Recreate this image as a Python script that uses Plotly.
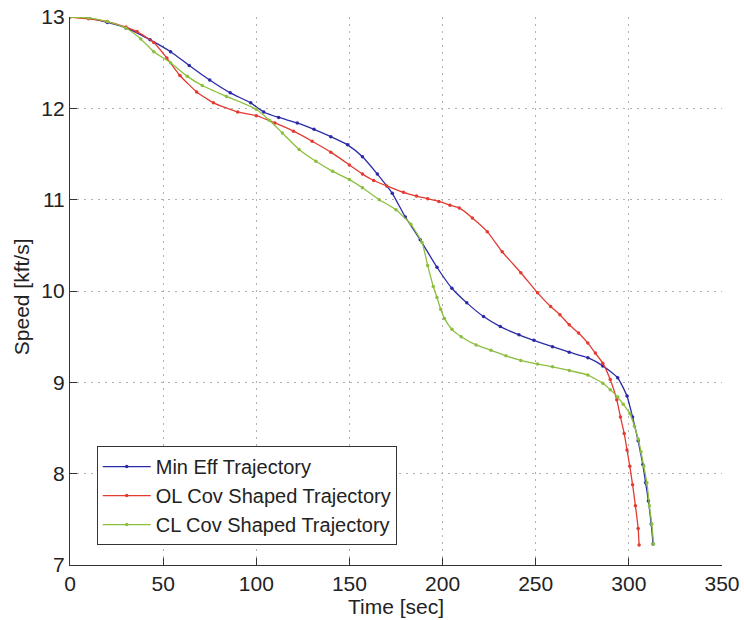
import plotly.graph_objects as go

# Min Eff Trajectory
blue_t = [0, 10, 20, 30, 43, 54, 64, 75, 86, 97, 104, 112, 122, 131, 140, 149, 157, 165, 173, 180,
          188, 197, 205, 213, 222, 231, 241, 249, 259, 268, 278, 286, 294, 299, 302,
          305, 307.5, 309, 310.5, 312, 313]
blue_v = [13.00, 12.99, 12.94, 12.88, 12.75, 12.62, 12.47, 12.31, 12.17, 12.06, 11.96, 11.90, 11.84, 11.77,
          11.69, 11.60, 11.47, 11.28, 11.07, 10.81, 10.56, 10.26, 10.03, 9.87,
          9.72, 9.61, 9.52, 9.46, 9.39, 9.33, 9.27, 9.18, 9.05, 8.85, 8.62, 8.36, 8.10, 7.90, 7.70,
          7.45, 7.23]

# OL Cov Shaped Trajectory
red_t = [0, 10, 20, 30, 36, 45, 52, 59, 68, 77, 90, 100, 110, 120, 130, 140, 150, 157, 163, 170, 179,
         186, 192, 198, 204, 209, 216, 224, 232, 242, 251, 258, 263, 268, 273, 278, 282, 286,
         290, 293.5, 295.5, 297.5, 299, 300.5, 302, 303.5, 305, 305.5]
red_v = [13.00, 12.98, 12.95, 12.89, 12.84, 12.72, 12.55, 12.36, 12.18, 12.06, 11.96, 11.92,
         11.84, 11.75, 11.64, 11.52, 11.38, 11.28, 11.21, 11.15, 11.08, 11.04, 11.01, 10.98, 10.94,
         10.91, 10.80, 10.65, 10.43, 10.20, 9.98, 9.83, 9.74, 9.63, 9.54, 9.43, 9.32, 9.21,
         9.03, 8.81, 8.62, 8.44, 8.26, 8.08, 7.88, 7.65, 7.40, 7.22]

# CL Cov Shaped Trajectory
green_t = [0, 10, 20, 30, 38, 45, 54, 63, 71, 84, 100, 107, 114, 123, 132, 141, 150, 157, 166, 175, 183,
           189, 192, 195, 197, 199, 201, 205, 210, 218, 226, 234, 242, 251, 259, 268, 278, 286, 290,
           294, 297, 300.5, 303, 305, 306.5, 308, 309.7, 311, 312.3, 313.3]
green_v = [13.00, 12.99, 12.95, 12.88, 12.76, 12.62, 12.50, 12.35, 12.25, 12.13, 11.99, 11.87,
           11.73, 11.55, 11.42, 11.31, 11.22, 11.13, 11.00, 10.89, 10.73, 10.53, 10.28, 10.05,
           9.93, 9.80, 9.70, 9.58, 9.50, 9.41, 9.35, 9.29, 9.24, 9.20, 9.17, 9.13, 9.08, 8.99, 8.92,
           8.84, 8.76, 8.66, 8.52, 8.38, 8.24, 8.08, 7.90, 7.65, 7.45, 7.23]

names = ["Min Eff Trajectory", "OL Cov Shaped Trajectory", "CL Cov Shaped Trajectory"]
colors = ["#2a2aa8", "#e33a32", "#8cbf3f"]

fig = go.Figure()
for t, v, n, c in [(blue_t, blue_v, names[0], colors[0]),
                   (red_t, red_v, names[1], colors[1]),
                   (green_t, green_v, names[2], colors[2])]:
    fig.add_trace(go.Scatter(x=t, y=v, name=n, mode="lines+markers",
                             line=dict(color=c, width=1.3, shape="spline", smoothing=0.5),
                             marker=dict(color=c, size=3.5)))

FAM = "Liberation Sans, Arial, sans-serif"
font = dict(family=FAM, size=21, color="#222222")
fig.update_layout(
    width=744, height=620,
    margin=dict(l=70, r=22, t=17, b=55, autoexpand=False),
    paper_bgcolor="white", plot_bgcolor="white",
    font=font,
    showlegend=True,
    legend=dict(x=0.041, y=0.217, xanchor="left", yanchor="top",
                bgcolor="white", bordercolor="#333333", borderwidth=1,
                font=dict(family=FAM, size=20, color="#222222"),
                tracegroupgap=0, itemwidth=48),
    annotations=[
        dict(text="Time [sec]", xref="paper", yref="paper", x=0.5, y=-0.076,
             xanchor="center", yanchor="middle", showarrow=False, font=font),
        dict(text="Speed [kft/s]", xref="paper", yref="paper", x=-0.074, y=0.49,
             xanchor="center", yanchor="middle", showarrow=False, textangle=-90, font=font),
    ],
)
grid = dict(showgrid=True, gridcolor="#b0b0b0", griddash="2px,5px", gridwidth=1)
fig.update_xaxes(range=[0, 350], tickmode="linear", tick0=0, dtick=50,
                 showline=True, linecolor="#333333", linewidth=1.2,
                 ticks="inside", ticklen=7, tickcolor="#333333", ticklabeloverflow="allow",
                 zeroline=False, automargin=False, **grid)
fig.update_yaxes(range=[7, 13], tickmode="linear", tick0=7, dtick=1,
                 showline=True, linecolor="#333333", linewidth=1.2,
                 ticks="inside", ticklen=7, tickcolor="#333333", ticklabeloverflow="allow",
                 zeroline=False, automargin=False, **grid)

fig.write_html("out.html", config={"displayModeBar": False},
               post_script="document.body.style.margin='0';document.body.style.overflow='hidden';")
